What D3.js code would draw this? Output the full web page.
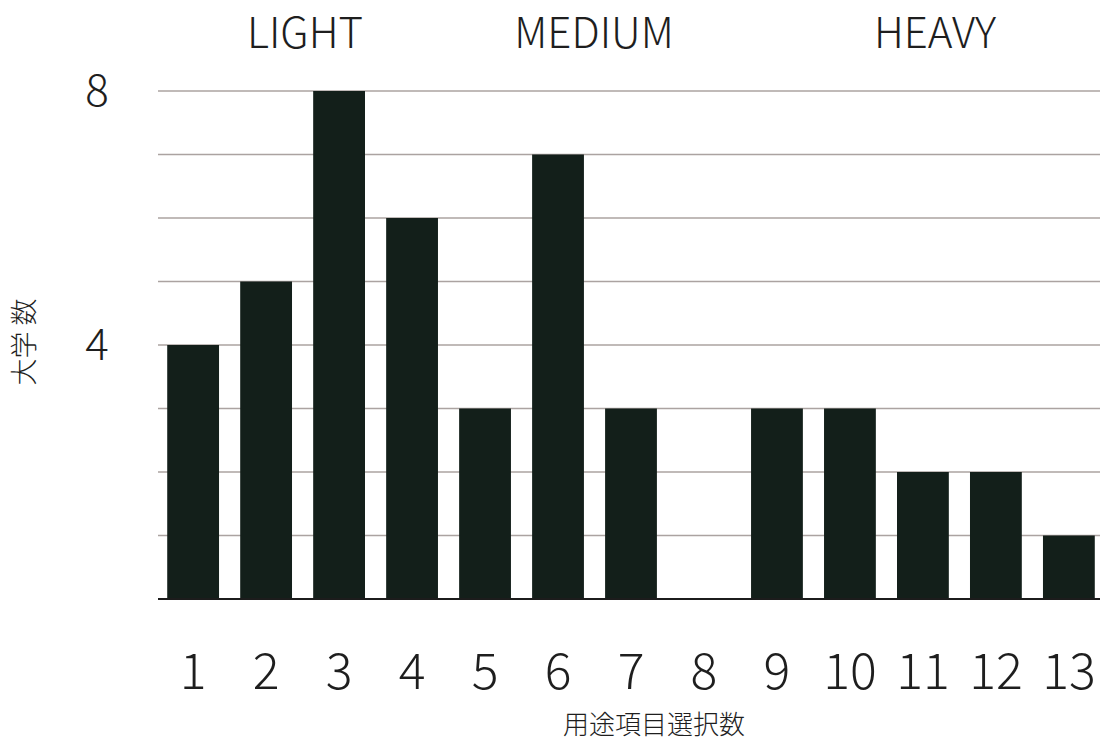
<!DOCTYPE html>
<html>
<head>
<meta charset="utf-8">
<script src="https://cdn.jsdelivr.net/npm/d3@7"></script>
<style>
  html, body { margin: 0; padding: 0; background: #fff; }
  svg { display: block; }
  text { font-family: "Noto Sans CJK JP", "Noto Sans", sans-serif; font-weight: 300; fill: #1e1e1e; }
</style>
</head>
<body>
<svg id="chart" width="1100" height="742"></svg>
<script>
// Number of selected usage items (x) vs. number of universities (y)
const categories = ["1","2","3","4","5","6","7","8","9","10","11","12","13"];
const counts     = [4, 5, 8, 6, 3, 7, 3, 0, 3, 3, 2, 2, 1];
const yTicks     = [4, 8];
const gridValues = [1, 2, 3, 4, 5, 6, 7, 8];
const groupNames = ["LIGHT", "MEDIUM", "HEAVY"];
const groupX     = [305, 594, 935];
const xTitle = "用途項目選択数";
const yTitle = "大学 数";

const svg = d3.select("#chart");

const x = d3.scaleBand()
  .domain(categories)
  .range([157, 1105])
  .paddingInner(0.29)
  .paddingOuter(0.14);

const y = d3.scaleLinear().domain([0, 8]).range([599, 91]);

// horizontal grid lines
svg.append("g")
  .selectAll("line")
  .data(gridValues)
  .join("line")
  .attr("x1", 158).attr("x2", 1100)
  .attr("y1", d => y(d)).attr("y2", d => y(d))
  .attr("stroke", "#aba3a1")
  .attr("stroke-width", 1.6);

// bars
svg.append("g")
  .selectAll("rect")
  .data(categories.map((c, i) => ({ c, v: counts[i] })))
  .join("rect")
  .attr("x", d => x(d.c))
  .attr("width", x.bandwidth())
  .attr("y", d => y(d.v))
  .attr("height", d => y(0) - y(d.v))
  .attr("fill", "#131f1a");

// baseline
svg.append("line")
  .attr("x1", 158).attr("x2", 1100)
  .attr("y1", y(0)).attr("y2", y(0))
  .attr("stroke", "#1c1c1c")
  .attr("stroke-width", 2.2);

// x axis labels
const xAxis = d3.axisBottom(x).tickSize(0).tickPadding(0);
const gx = svg.append("g").attr("transform", "translate(0, 689)").call(xAxis);
gx.select(".domain").remove();
gx.selectAll("text")
  .attr("dy", null)
  .attr("y", 0)
  .style("font-size", "50px")
  .style("font-family", "\"Noto Sans CJK JP\", sans-serif")
  .style("font-weight", 300)
  .attr("fill", "#1e1e1e");

// y axis labels
const yAxis = d3.axisLeft(y).tickValues(yTicks).tickSize(0).tickPadding(0);
const gy = svg.append("g").attr("transform", "translate(97, 0)").call(yAxis);
gy.select(".domain").remove();
gy.selectAll("text")
  .attr("x", 0)
  .attr("dy", "0.34em")
  .attr("text-anchor", "middle")
  .style("font-size", "44px")
  .style("font-family", "\"Noto Sans CJK JP\", sans-serif")
  .style("font-weight", 300)
  .attr("fill", "#1e1e1e");

// group headers
svg.append("g")
  .selectAll("text")
  .data(groupNames)
  .join("text")
  .attr("x", (d, i) => groupX[i])
  .attr("y", 48)
  .attr("text-anchor", "middle")
  .style("font-size", "42px")
  .text(d => d);

// axis titles
svg.append("text")
  .attr("x", 654)
  .attr("y", 734)
  .attr("text-anchor", "middle")
  .style("font-size", "26px")
  .text(xTitle);

svg.append("text")
  .attr("transform", "translate(25, 342) rotate(-90)")
  .attr("text-anchor", "middle")
  .attr("dy", "0.35em")
  .style("font-size", "27px")
  .text(yTitle);
</script>
</body>
</html>
